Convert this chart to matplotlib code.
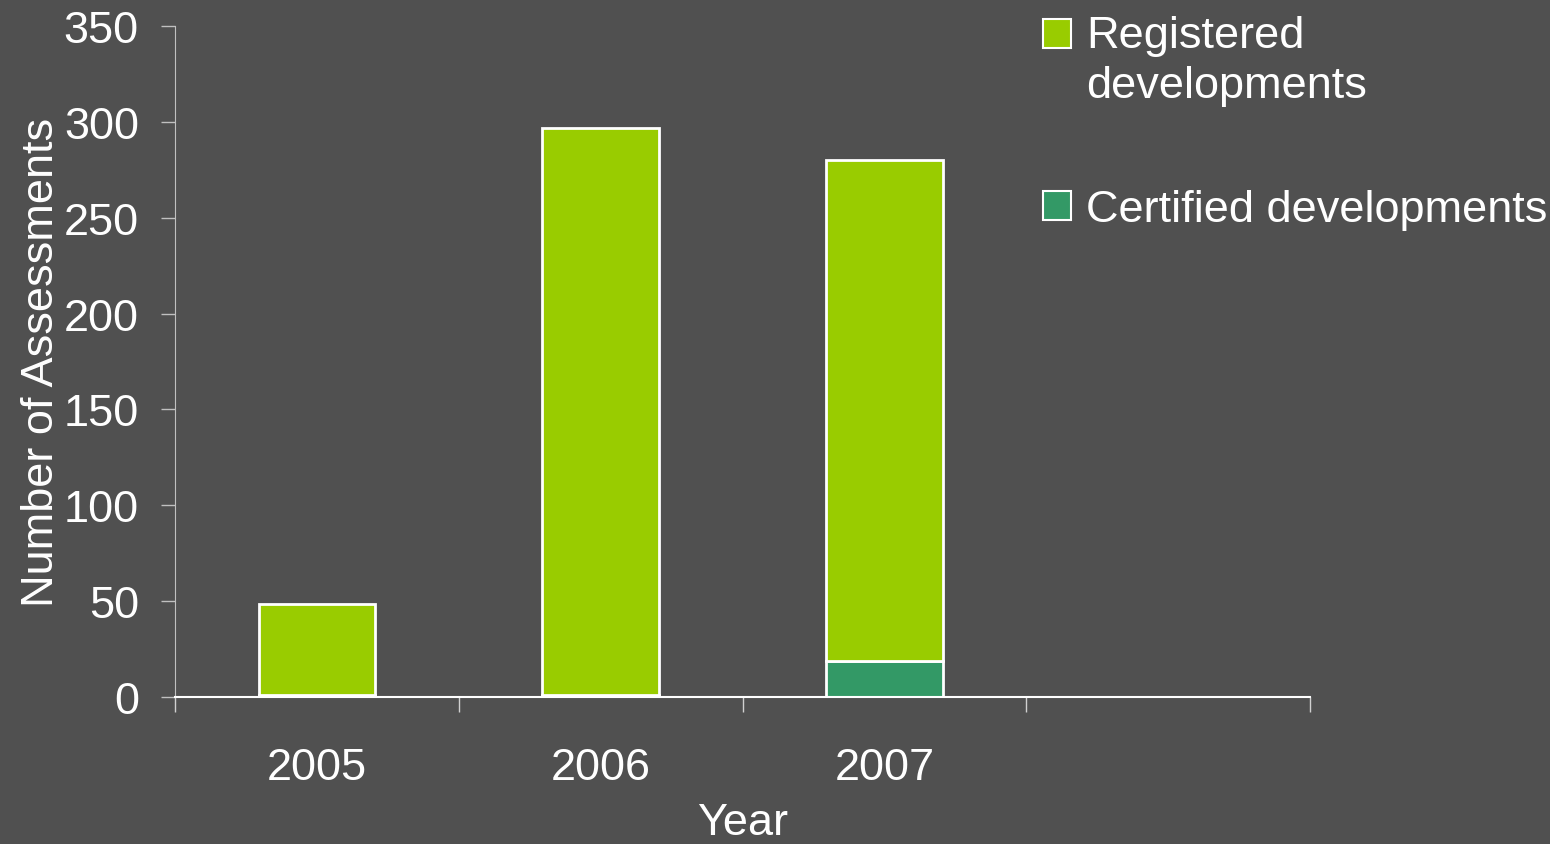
import matplotlib.pyplot as plt
from matplotlib.patches import Patch

years = ["2005", "2006", "2007"]
certified = [1, 1, 19]
registered = [47.5, 296, 261]

bg = "#505050"
green_light = "#99CC00"
green_dark = "#339966"
fs = 32.5

plt.rcParams['font.family'] = ['Liberation Sans', 'DejaVu Sans']

fig = plt.figure(figsize=(15.5, 8.45), dpi=100, facecolor=bg)
ax = fig.add_axes([175 / 1550, 1 - 698 / 845, (1310 - 175) / 1550, (698 - 27) / 845])
ax.set_facecolor(bg)

x = list(range(len(years)))
ax.bar(x, certified, width=0.41, color=green_dark, edgecolor="white", linewidth=2)
ax.bar(x, registered, width=0.41, bottom=certified, color=green_light, edgecolor="white", linewidth=2)

ax.set_xlim(-0.5, 3.5)
ax.set_ylim(0, 350)
ax.set_yticks(range(0, 351, 50))
ax.set_xticks([-0.5, 0.5, 1.5, 2.5, 3.5])
ax.set_xticklabels([])
ax.set_xticks(x, minor=True)
ax.set_xticklabels(years, minor=True)
ax.tick_params(axis="x", which="minor", length=0, pad=36, labelsize=fs, labelcolor="white")
ax.tick_params(axis="x", which="major", length=11, width=1, color="#d0d0d0")
ax.tick_params(axis="y", length=10, width=1, color="#c0c0c0", labelsize=fs, labelcolor="white", pad=16)

for s in ["top", "right"]:
    ax.spines[s].set_visible(False)
ax.spines["left"].set_color("#c0c0c0")
ax.spines["bottom"].set_color("white")
ax.spines["bottom"].set_linewidth(1.5)

ax.set_xlabel("Year", fontsize=fs, color="white", labelpad=10)
ax.set_ylabel("Number of Assessments", fontsize=fs, color="white", labelpad=1)

handles = [Patch(facecolor=green_light, edgecolor="white", linewidth=1.5),
           Patch(facecolor=green_dark, edgecolor="white", linewidth=1.5)]
leg = fig.legend(handles, ["Registered\ndevelopments", "Certified developments"],
                 loc="upper left", bbox_to_anchor=(1043 / 1550, 1 - 16 / 845),
                 frameon=False, fontsize=fs, labelcolor="white",
                 handlelength=0.62, handleheight=0.62, handletextpad=0.33,
                 labelspacing=1.84, borderaxespad=0, borderpad=0)
for t in leg.get_texts():
    t.set_linespacing(1.28)
# put the first swatch next to the first text line
p = leg.legend_handles[0]
p.set_y(p.get_y() + 0.6 * fs)

fig.savefig("out.png", dpi=100, facecolor=bg)
